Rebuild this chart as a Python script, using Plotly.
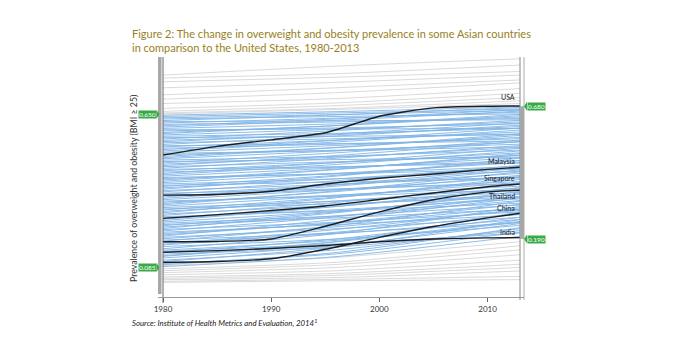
import plotly.graph_objects as go

# ---------------- data ----------------
years_c = [1980, 1985, 1990, 1995, 2000, 2005, 2010, 2013]
countries = ["USA", "Malaysia", "Singapore", "Thailand", "China", "India"]
usa = [0.500, 0.532, 0.556, 0.582, 0.643, 0.674, 0.680, 0.681]
malaysia = [0.352, 0.354, 0.366, 0.393, 0.414, 0.430, 0.447, 0.455]
singapore = [0.266, 0.280, 0.295, 0.312, 0.336, 0.360, 0.383, 0.393]
thailand = [0.180, 0.181, 0.190, 0.237, 0.290, 0.335, 0.364, 0.370]
china = [0.104, 0.107, 0.117, 0.152, 0.196, 0.236, 0.268, 0.285]
india = [0.141, 0.147, 0.155, 0.166, 0.180, 0.190, 0.194, 0.195]

years_bg = [1980, 1996, 2013]
blue_1980 = [0.088, 0.095, 0.099, 0.107, 0.112, 0.120, 0.126, 0.134, 0.140, 0.149,
             0.154, 0.162, 0.168, 0.177, 0.182, 0.191, 0.196, 0.205, 0.210, 0.220,
             0.225, 0.234, 0.239, 0.248, 0.253, 0.263, 0.268, 0.277, 0.282, 0.292,
             0.297, 0.306, 0.311, 0.321, 0.326, 0.335, 0.340, 0.350, 0.355, 0.364,
             0.369, 0.379, 0.384, 0.393, 0.398, 0.408, 0.413, 0.422, 0.427, 0.437,
             0.442, 0.451, 0.457, 0.466, 0.471, 0.481, 0.486, 0.495, 0.501, 0.510,
             0.515, 0.525, 0.530, 0.539, 0.545, 0.554, 0.559, 0.569, 0.574, 0.583,
             0.589, 0.598, 0.603, 0.613, 0.618, 0.627, 0.633, 0.642, 0.647]
blue_1996 = [0.125, 0.140, 0.135, 0.160, 0.150, 0.165, 0.180, 0.160, 0.190, 0.185,
             0.210, 0.190, 0.215, 0.210, 0.240, 0.235, 0.228, 0.250, 0.248, 0.272,
             0.252, 0.275, 0.290, 0.275, 0.292, 0.310, 0.298, 0.325, 0.315, 0.330,
             0.345, 0.330, 0.350, 0.365, 0.352, 0.372, 0.385, 0.372, 0.390, 0.405,
             0.392, 0.412, 0.425, 0.412, 0.432, 0.448, 0.432, 0.452, 0.465, 0.455,
             0.472, 0.488, 0.475, 0.492, 0.508, 0.495, 0.515, 0.528, 0.518, 0.535,
             0.548, 0.540, 0.555, 0.570, 0.560, 0.575, 0.590, 0.580, 0.595, 0.608,
             0.600, 0.615, 0.628, 0.622, 0.636, 0.648, 0.642, 0.655, 0.660]
blue_2013 = [0.200, 0.232, 0.215, 0.262, 0.228, 0.247, 0.290, 0.221, 0.270, 0.255,
             0.310, 0.240, 0.282, 0.262, 0.330, 0.296, 0.270, 0.318, 0.305, 0.348,
             0.290, 0.332, 0.358, 0.315, 0.345, 0.372, 0.338, 0.392, 0.355, 0.378,
             0.410, 0.362, 0.398, 0.425, 0.385, 0.418, 0.445, 0.402, 0.432, 0.462,
             0.420, 0.455, 0.480, 0.440, 0.472, 0.500, 0.458, 0.490, 0.515, 0.478,
             0.508, 0.535, 0.498, 0.528, 0.555, 0.518, 0.548, 0.572, 0.540, 0.565,
             0.592, 0.560, 0.585, 0.610, 0.578, 0.605, 0.628, 0.598, 0.622, 0.645,
             0.615, 0.640, 0.662, 0.635, 0.658, 0.675, 0.652, 0.670, 0.678]

blue2_1980 = [0.128, 0.145, 0.171, 0.186, 0.201, 0.215, 0.229, 0.243, 0.258, 0.272,
              0.287, 0.301, 0.316, 0.330, 0.345, 0.359, 0.374, 0.388, 0.403, 0.417,
              0.432, 0.447, 0.461, 0.476, 0.490, 0.506, 0.520, 0.534, 0.549, 0.564,
              0.579, 0.593, 0.608, 0.623, 0.637]
blue2_1996 = [0.180, 0.172, 0.225, 0.212, 0.262, 0.243, 0.287, 0.268, 0.310, 0.294,
              0.342, 0.320, 0.368, 0.348, 0.390, 0.375, 0.422, 0.400, 0.446, 0.430,
              0.472, 0.457, 0.498, 0.483, 0.527, 0.516, 0.554, 0.542, 0.578, 0.569,
              0.609, 0.596, 0.633, 0.626, 0.649]
blue2_2013 = [0.252, 0.212, 0.300, 0.250, 0.342, 0.280, 0.365, 0.300, 0.380, 0.322,
              0.418, 0.345, 0.438, 0.372, 0.452, 0.395, 0.488, 0.415, 0.505, 0.448,
              0.525, 0.470, 0.550, 0.492, 0.578, 0.530, 0.600, 0.552, 0.618, 0.575,
              0.650, 0.598, 0.668, 0.630, 0.665]

gray_hi_1980 = [0.795, 0.784, 0.770, 0.748, 0.722, 0.706, 0.690, 0.672, 0.661, 0.655, 0.652]
gray_hi_1996 = [0.828, 0.800, 0.787, 0.768, 0.748, 0.730, 0.708, 0.692, 0.682, 0.672, 0.668]
gray_hi_2013 = [0.855, 0.832, 0.808, 0.795, 0.777, 0.766, 0.745, 0.728, 0.712, 0.700, 0.690]

gray_lo_1980 = [0.092, 0.080, 0.073, 0.066, 0.058, 0.050, 0.045, 0.040, 0.034, 0.030]
gray_lo_1996 = [0.122, 0.104, 0.096, 0.085, 0.073, 0.063, 0.056, 0.048, 0.041, 0.036]
gray_lo_2013 = [0.180, 0.165, 0.150, 0.132, 0.112, 0.097, 0.085, 0.072, 0.052, 0.040]

range_left = [0.085, 0.650]
range_right = [0.190, 0.680]
x_ticks = [1980, 1990, 2000, 2010]
x_tick_labels = ["1980", "1990", "2000", "2010"]

title_text = ("Figure 2: The change in overweight and obesity prevalence in some Asian countries"
              "<br>in comparison to the United States, 1980-2013")
y_title = "Prevalence of overweight and obesity (BMI ≥ 25)"
source_text = "<i>Source: Institute of Health Metrics and Evaluation, 2014<sup>1</sup></i>"

# ---------------- layout geometry ----------------
# the page body has an 8px default margin, so the figure is drawn 8px in from the window corner
OFF = 8
W, H = 674 - 2 * OFF, 360 - 2 * OFF
PLOT_L, PLOT_R, PLOT_T, PLOT_B = 163, 520, 57, 297   # window pixel coords of plot area
L, T = PLOT_L - OFF, PLOT_T - OFF
R, B = W - (PLOT_R - OFF), H - (PLOT_B - OFF)
PW, PH = PLOT_R - PLOT_L, PLOT_B - PLOT_T


def px(x):
    return (x - PLOT_L) / PW


def py(y):
    return (PLOT_B - y) / PH


fig = go.Figure()


def add_bg(starts, mids, ends, color, width):
    for a, b, c in zip(starts, mids, ends):
        fig.add_trace(go.Scatter(x=years_bg, y=[a, b, c], mode="lines", hoverinfo="skip",
                                 line=dict(color=color, width=width, shape="spline", smoothing=0.6)))


add_bg(gray_hi_1980, gray_hi_1996, gray_hi_2013, "#d6d6d6", 0.9)
add_bg(gray_lo_1980, gray_lo_1996, gray_lo_2013, "#d6d6d6", 0.9)
add_bg(blue_1980, blue_1996, blue_2013, "#80b4e6", 0.9)
add_bg(blue2_1980, blue2_1996, blue2_2013, "#80b4e6", 0.9)

series = [usa, malaysia, singapore, thailand, china, india]
for name, vals in zip(countries, series):
    fig.add_trace(go.Scatter(x=years_c, y=vals, mode="lines", name=name,
                             line=dict(color="#1e1e1e", width=1.4, shape="spline", smoothing=0.6)))

# country labels
label_shift = {"USA": 8.5, "Malaysia": 6.3, "Singapore": 5.7, "Thailand": -5.3, "China": 5, "India": 5.4}
for name, vals in zip(countries, series):
    fig.add_annotation(x=years_c[-1], y=vals[-1], xref="x", yref="y", text=name, showarrow=False,
                       xanchor="right", yanchor="middle", xshift=-3, yshift=label_shift[name],
                       font=dict(size=7, color="#222222", family="Lato"))

green = "#3aaa48"
shapes = [
    dict(type="rect", xref="paper", yref="paper", x0=px(158), x1=px(161.5), y0=py(294), y1=py(57),
         fillcolor="#a8a8a8", line=dict(width=0)),
    dict(type="line", xref="paper", yref="paper", x0=px(163), x1=px(163), y0=py(303), y1=py(57),
         line=dict(color="#666666", width=1)),
    dict(type="line", xref="paper", yref="paper", x0=px(158), x1=px(524), y0=py(297.5), y1=py(297.5),
         line=dict(color="#9a9a9a", width=1)),
    dict(type="line", xref="paper", yref="paper", x0=px(520), x1=px(520), y0=py(300), y1=py(57),
         line=dict(color="#888888", width=1)),
    dict(type="line", xref="paper", yref="paper", x0=px(524), x1=px(524), y0=py(300), y1=py(57),
         line=dict(color="#aaaaaa", width=1)),
    dict(type="rect", xref="paper", yref="y", x0=px(520), x1=px(524), y0=range_right[0], y1=range_right[1],
         fillcolor="#a8a8a8", line=dict(width=0)),
]

for v in range_left:
    fig.add_annotation(x=px(156.5), y=v, xref="paper", yref="y", text=f"{v:.3f}", showarrow=False,
                       xanchor="right", yanchor="middle", bgcolor=green, borderpad=0,
                       font=dict(size=6.5, color="white", family="Lato"))
    shapes.append(dict(type="path", xref="paper", yref="y", xsizemode="pixel", ysizemode="pixel",
                       xanchor=px(156.5), yanchor=v, path="M0,-4.5 L3,0 L0,4.5 Z",
                       fillcolor=green, line=dict(width=0)))
for v in range_right:
    fig.add_annotation(x=px(527), y=v, xref="paper", yref="y", text=f"{v:.3f}", showarrow=False,
                       xanchor="left", yanchor="middle", bgcolor=green, borderpad=0,
                       font=dict(size=6.5, color="white", family="Lato"))
    shapes.append(dict(type="path", xref="paper", yref="y", xsizemode="pixel", ysizemode="pixel",
                       xanchor=px(527), yanchor=v, path="M0,-4.5 L-3,0 L0,4.5 Z",
                       fillcolor=green, line=dict(width=0)))

fig.add_annotation(x=px(130), y=py(25), xref="paper", yref="paper", text=title_text, showarrow=False,
                   xanchor="left", yanchor="top", align="left",
                   font=dict(size=11, color="#977f22", family="Lato"))
fig.add_annotation(x=px(133), y=py(189), xref="paper", yref="paper", text=y_title, showarrow=False,
                   textangle=-90, xanchor="center", yanchor="middle",
                   font=dict(size=8.8, color="#333333", family="Lato"))
fig.add_annotation(x=px(130), y=py(323), xref="paper", yref="paper", text=source_text, showarrow=False,
                   xanchor="left", yanchor="middle",
                   font=dict(size=7.8, color="#222222", family="Lato"))

fig.update_layout(
    width=W, height=H, autosize=False,
    margin=dict(l=L, r=R, t=T, b=B),
    plot_bgcolor="white", paper_bgcolor="white",
    showlegend=False, shapes=shapes,
    font=dict(family="Lato"),
    xaxis=dict(range=[1980, 2013], tickvals=x_ticks, ticktext=x_tick_labels, ticks="outside",
               ticklen=4, tickcolor="#666666", showgrid=False, zeroline=False, showline=False,
               tickfont=dict(size=8, color="#333333", family="Lato")),
    yaxis=dict(range=[-0.024, 0.8616], showticklabels=False, showgrid=False, zeroline=False,
               showline=False, ticks=""),
)

fig.write_html("out.html")
